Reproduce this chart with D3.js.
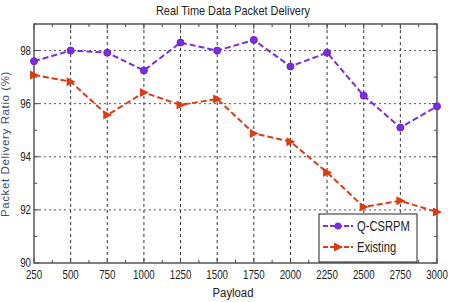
<!DOCTYPE html>
<html>
<head>
<meta charset="utf-8">
<script src="https://cdn.jsdelivr.net/npm/d3@7"></script>
<style>
  body { margin: 0; background: #fff; }
  text { font-family: "Liberation Sans", Arial, sans-serif; }
</style>
</head>
<body>
<svg id="chart" width="450" height="302"></svg>
<script>
// Chart data
const payload = [250, 500, 750, 1000, 1250, 1500, 1750, 2000, 2250, 2500, 2750, 3000];
const qcsrpm = [97.6, 98.0, 97.92, 97.25, 98.3, 98.0, 98.4, 97.4, 97.92, 96.3, 95.1, 95.9];
const existing = [97.08, 96.83, 95.57, 96.42, 95.95, 96.18, 94.88, 94.57, 93.41, 92.11, 92.34, 91.92];
const yTicks = [90, 92, 94, 96, 98];
const seriesNames = ["Q-CSRPM", "Existing"];

const svg = d3.select("#chart");
const pLeft = 34, pRight = 437, pTop = 24, pBottom = 263;

const x = d3.scaleLinear().domain([250, 3000]).range([pLeft, pRight]);
const y = d3.scaleLinear().domain([90, 99]).range([pBottom, pTop]);

const purple = "#7a2ee0";
const red = "#dc3c14";

// narrow text, like the condensed font of the original
const narrowText = (g, tx, ty, str, size, anchor, sx) => g.append("text")
    .attr("transform", `translate(${tx},${ty}) scale(${sx || 0.8},1)`)
    .attr("text-anchor", anchor).attr("font-size", size).attr("fill", "#222")
    .text(str);

// Grid lines
svg.append("g").selectAll("line")
    .data(payload.slice(1, -1))
    .enter().append("line")
    .attr("x1", d => x(d)).attr("x2", d => x(d))
    .attr("y1", pTop).attr("y2", pBottom)
    .attr("stroke", "#333").attr("stroke-width", 1)
    .attr("stroke-dasharray", "3,3");

svg.append("g").selectAll("line")
    .data(yTicks.slice(1))
    .enter().append("line")
    .attr("x1", pLeft).attr("x2", pRight)
    .attr("y1", d => y(d)).attr("y2", d => y(d))
    .attr("stroke", "#555").attr("stroke-width", 1)
    .attr("stroke-dasharray", "2,3");

// Axes with inward ticks (major + minor)
const minorX = d3.range(375, 3000, 250);
const minorY = [91, 93, 95, 97, 99];
const tick = svg.append("g").attr("stroke", "#444").attr("stroke-width", 1);
payload.concat(minorX).forEach(v => {
    const len = minorX.includes(v) ? 3 : 5;
    tick.append("line").attr("x1", x(v)).attr("x2", x(v)).attr("y1", pBottom).attr("y2", pBottom - len);
    tick.append("line").attr("x1", x(v)).attr("x2", x(v)).attr("y1", pTop).attr("y2", pTop + len);
});
yTicks.concat(minorY).forEach(v => {
    const len = minorY.includes(v) ? 3 : 5;
    tick.append("line").attr("x1", pLeft).attr("x2", pLeft + len).attr("y1", y(v)).attr("y2", y(v));
    tick.append("line").attr("x1", pRight).attr("x2", pRight - len).attr("y1", y(v)).attr("y2", y(v));
});

svg.append("rect")
    .attr("x", pLeft).attr("y", pTop)
    .attr("width", pRight - pLeft).attr("height", pBottom - pTop)
    .attr("fill", "none").attr("stroke", "#555").attr("stroke-width", 1.5);

// Tick labels
const xl = svg.append("g");
payload.forEach(d => narrowText(xl, x(d), pBottom + 16, d, 12.5, "middle", 0.78));
const yl = svg.append("g");
yTicks.forEach(d => narrowText(yl, pLeft - 3, y(d) + 4, d, 12.5, "end", 0.78));

// Titles
narrowText(svg, 233, 15, "Real Time Data Packet Delivery", 13, "middle", 0.84);
narrowText(svg, 233, 297, "Payload", 13.5, "middle", 0.84);
svg.append("text")
    .attr("transform", "translate(9,144) rotate(-90)")
    .attr("text-anchor", "middle").attr("font-size", 11.5).attr("fill", "#3b4a78")
    .style("letter-spacing", "0.6px")
    .text("Packet Delivery Ratio (%)");

// Series
const line = d3.line().x((d, i) => x(payload[i])).y(d => y(d));
const triangle = "M-4,-4.5L5,0L-4,4.5Z";

svg.append("path").datum(qcsrpm)
    .attr("d", line).attr("fill", "none")
    .attr("stroke", purple).attr("stroke-width", 2).attr("stroke-dasharray", "6,3");
svg.append("g").selectAll("circle")
    .data(qcsrpm).enter().append("circle")
    .attr("cx", (d, i) => x(payload[i])).attr("cy", d => y(d))
    .attr("r", 3.5).attr("fill", purple).attr("stroke", "#6a22c8");

svg.append("path").datum(existing)
    .attr("d", line).attr("fill", "none")
    .attr("stroke", red).attr("stroke-width", 2).attr("stroke-dasharray", "6,3");
svg.append("g").selectAll("path")
    .data(existing).enter().append("path")
    .attr("d", triangle)
    .attr("transform", (d, i) => `translate(${x(payload[i])},${y(d)})`)
    .attr("fill", red);

// Legend
const lg = svg.append("g");
lg.append("rect").attr("x", 319).attr("y", 214).attr("width", 98).attr("height", 48)
    .attr("fill", "#fff").attr("stroke", "#222").attr("stroke-width", 1);
[purple, red].forEach((c, i) => {
    const ly = 226 + i * 21;
    lg.append("line").attr("x1", 323).attr("x2", 353).attr("y1", ly).attr("y2", ly)
        .attr("stroke", c).attr("stroke-width", 2).attr("stroke-dasharray", "5,2");
    if (i === 0) {
        lg.append("circle").attr("cx", 338).attr("cy", ly).attr("r", 3.5).attr("fill", c);
    } else {
        lg.append("path").attr("d", triangle).attr("transform", `translate(338,${ly})`).attr("fill", c);
    }
    narrowText(lg, 357, ly + 5, seriesNames[i], 14, "start", 0.8);
});
</script>
</body>
</html>
